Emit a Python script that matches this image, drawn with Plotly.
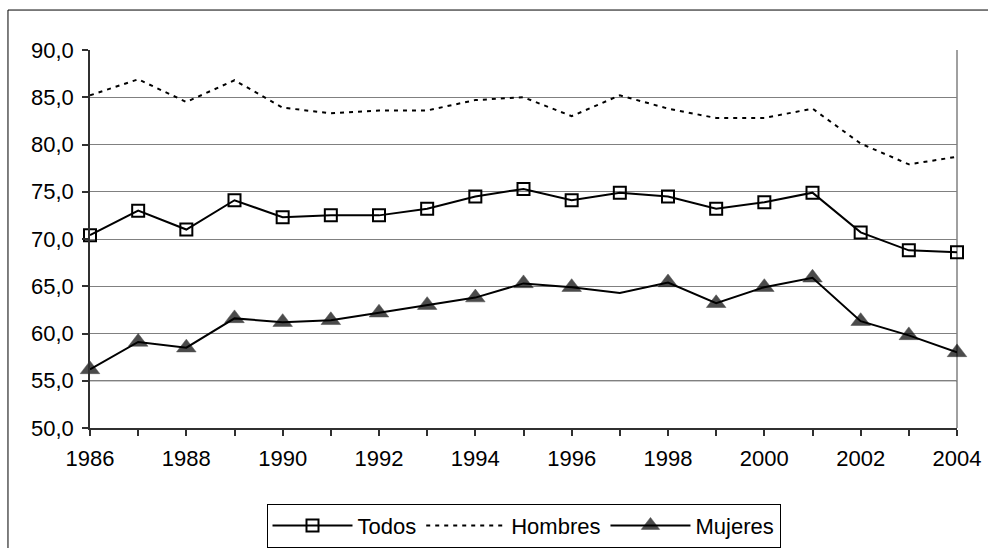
import plotly.graph_objects as go

years = list(range(1986, 2005))
todos = [70.4, 73.0, 71.0, 74.1, 72.3, 72.5, 72.5, 73.2, 74.5, 75.3, 74.1, 74.9, 74.5, 73.2, 73.9, 74.9, 70.7, 68.8, 68.6]
hombres = [85.2, 86.9, 84.5, 86.8, 83.9, 83.3, 83.6, 83.6, 84.7, 85.0, 83.0, 85.2, 83.8, 82.8, 82.8, 83.8, 80.1, 77.9, 78.7]
mujeres = [56.2, 59.1, 58.5, 61.6, 61.2, 61.4, 62.2, 63.0, 63.8, 65.3, 64.9, 64.3, 65.4, 63.2, 64.9, 65.9, 61.3, 59.8, 58.0]
mujeres_marker = [17] * len(years)
mujeres_marker[years.index(1997)] = 0

y_ticks = [50, 55, 60, 65, 70, 75, 80, 85, 90]
x_labels = [str(y) if (y - 1986) % 2 == 0 else "" for y in years]

FONT = "Liberation Sans, Arial, sans-serif"
FS = 22

fig = go.Figure()
fig.add_trace(go.Scatter(
    x=years, y=todos, name="Todos", mode="lines+markers", cliponaxis=False,
    line=dict(color="black", width=2),
    marker=dict(symbol="square-open", size=12, color="black", line=dict(width=2, color="black")),
))
fig.add_trace(go.Scatter(
    x=years, y=hombres, name="Hombres", mode="lines", cliponaxis=False,
    line=dict(color="black", width=2, dash="4px,5px"),
))
fig.add_trace(go.Scatter(
    x=years, y=mujeres, name="Mujeres", mode="lines+markers", cliponaxis=False,
    line=dict(color="black", width=2),
    marker=dict(symbol="triangle-up", size=mujeres_marker, color="black",
                line=dict(width=0.5, color="black")),
))

fig.update_layout(
    width=988, height=548,
    margin=dict(l=90, r=31, t=50, b=120, autoexpand=False),
    paper_bgcolor="white", plot_bgcolor="white",
    separators=", ",
    font=dict(family=FONT, size=FS, color="black"),
    showlegend=True,
    legend=dict(
        orientation="h", x=0.5, xanchor="center", y=-0.2, yanchor="top",
        bgcolor="white", bordercolor="black", borderwidth=1,
        font=dict(size=FS, family=FONT, color="black"),
        itemwidth=80, tracegroupgap=0,
    ),
    xaxis=dict(
        range=[1986, 2004], tickvals=years, ticktext=x_labels,
        ticks="outside", ticklen=6, tickcolor="#303030", tickwidth=1.5,
        showline=True, linecolor="#303030", linewidth=1.5,
        showgrid=False, zeroline=False,
        tickfont=dict(size=FS, family=FONT, color="black"),
        ticklabelstandoff=4,
    ),
    yaxis=dict(
        range=[50, 90], tickvals=y_ticks, tickformat=".1f",
        ticks="outside", ticklen=6, tickcolor="#303030", tickwidth=1.5,
        showline=True, linecolor="#303030", linewidth=1.5,
        showgrid=True, gridcolor="#808080", gridwidth=1, zeroline=False,
        tickfont=dict(size=FS, family=FONT, color="black"),
        ticklabelstandoff=4,
    ),
    shapes=[
        dict(type="line", xref="paper", yref="paper", x0=1, x1=1, y0=0, y1=1,
             line=dict(color="#808080", width=1.5), layer="below"),
        dict(type="line", xref="paper", yref="y", x0=0, x1=1, y0=55, y1=55,
             line=dict(color="#303030", width=1), layer="below"),
        dict(type="rect", xref="paper", yref="paper",
             x0=-0.0946, x1=1.1, y0=-0.5, y1=1.1057,
             line=dict(color="black", width=1), layer="below"),
    ],
)

fig.write_html("out.html")
